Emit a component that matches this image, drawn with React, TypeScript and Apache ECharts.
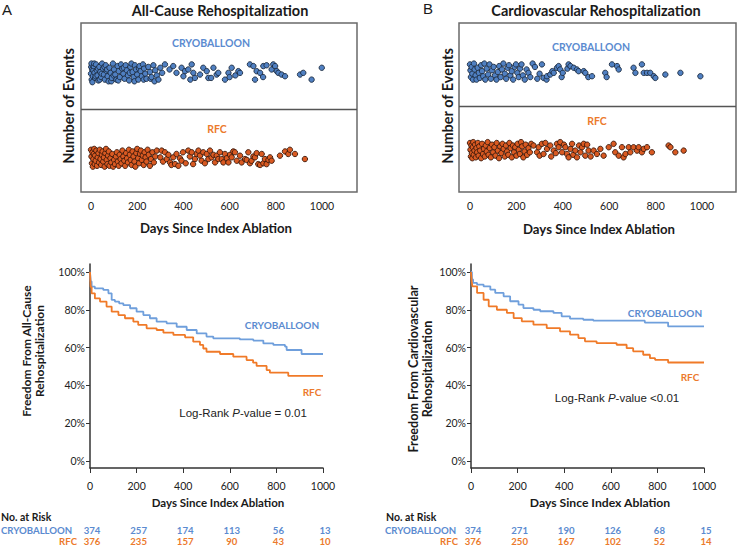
import React, { useEffect, useRef } from 'react';
import * as echarts from 'echarts';

// ---------- DATA ----------
const dayTicks = [0, 200, 400, 600, 800, 1000];
const pctTicks = [0, 20, 40, 60, 80, 100];

// Event scatter: [day, row position] (row: cryo band ~1.42, RFC band ~0.40/0.50)
const cryoAllCauseEvents = [
  [0,1.40],[1,1.48],[2,1.52],[3,1.33],[5,1.45],[6,1.30],[8,1.37],[10,1.44],[12,1.49],[14,1.52],[15,1.41],[18,1.35],[20,1.37],[22,1.51],[25,1.44],[28,1.38],[30,1.46],[32,1.32],[36,1.48],[38,1.33],[40,1.42],[44,1.36],[46,1.40],[48,1.52],[52,1.46],[56,1.39],[58,1.48],[60,1.33],[64,1.50],[68,1.43],[70,1.45],[72,1.37],[76,1.31],[80,1.47],[85,1.41],[88,1.31],[90,1.35],[95,1.52],[98,1.38],[100,1.45],[105,1.39],[110,1.33],[115,1.49],[118,1.32],[120,1.43],[125,1.36],[130,1.51],[135,1.46],[140,1.40],[142,1.47],[145,1.34],[150,1.50],[155,1.44],[160,1.38],[165,1.32],[168,1.41],[170,1.48],[175,1.52],[180,1.42],[185,1.36],[188,1.31],[190,1.50],[195,1.45],[200,1.39],[205,1.33],[208,1.46],[210,1.49],[215,1.43],[220,1.37],[225,1.51],[228,1.33],[230,1.46],[235,1.40],[240,1.34],[248,1.48],[255,1.42],[258,1.34],[262,1.36],[270,1.50],[275,1.31],[278,1.44],[285,1.38],[292,1.33],[300,1.47],[308,1.41],
  [320,1.51],[340,1.45],[356,1.49],[370,1.41],[392,1.47],[400,1.37],[407,1.43],[421,1.45],[430,1.33],[436,1.51],[443,1.41],[450,1.35],[472,1.39],[486,1.47],[501,1.43],[508,1.35],[520,1.35],[530,1.47],[544,1.39],[551,1.41],[580,1.33],[595,1.41],[600,1.36],[609,1.47],[625,1.38],[638,1.43],[645,1.41],[688,1.51],[703,1.49],[710,1.33],[717,1.43],[732,1.41],[745,1.36],[746,1.49],[760,1.50],[782,1.45],[789,1.51],[797,1.49],[804,1.43],[811,1.41],[825,1.39],[840,1.37],[905,1.39],[919,1.41],[955,1.33],[999,1.47]
];

const rfcAllCauseEvents = [
  [0,0.50],[2,0.42],[4,0.34],[6,0.47],[8,0.30],[10,0.39],[12,0.45],[14,0.51],[16,0.33],[18,0.43],[20,0.37],[23,0.49],[26,0.31],[29,0.41],[32,0.46],[35,0.35],[38,0.50],[41,0.39],[44,0.32],[47,0.44],[50,0.48],[53,0.36],[56,0.41],[59,0.30],[62,0.46],[65,0.51],[68,0.38],[71,0.33],[74,0.43],[77,0.48],[80,0.31],[84,0.40],[88,0.35],[92,0.45],[96,0.30],[100,0.38],[104,0.33],[108,0.42],[112,0.47],[116,0.36],[120,0.31],[124,0.44],[128,0.39],[132,0.34],[136,0.49],[140,0.42],[144,0.37],[148,0.31],[152,0.46],[156,0.40],[160,0.35],[164,0.50],[168,0.44],[172,0.38],[176,0.32],[180,0.48],[184,0.42],[188,0.36],[192,0.30],[196,0.46],[200,0.51],[204,0.40],[208,0.34],[212,0.45],[216,0.49],[220,0.38],[224,0.43],[228,0.32],[232,0.47],[236,0.41],[240,0.36],[245,0.50],[250,0.44],[255,0.31],[260,0.39],[266,0.47],[272,0.35],[278,0.42],[285,0.49],
  [300,0.41],[306,0.49],[312,0.36],[320,0.47],[328,0.39],[335,0.44],[342,0.35],[348,0.32],[356,0.41],[364,0.33],[370,0.45],[378,0.31],[385,0.40],[392,0.37],[398,0.47],[410,0.34],[421,0.49],[428,0.42],[436,0.47],[442,0.33],[450,0.39],[458,0.45],[465,0.49],[472,0.43],[479,0.37],[486,0.47],[493,0.34],[501,0.45],[508,0.39],[515,0.49],[522,0.41],[530,0.44],[537,0.35],[544,0.43],[551,0.39],[558,0.47],[566,0.39],[573,0.35],[580,0.45],[588,0.40],[595,0.35],[602,0.44],[609,0.41],[616,0.48],[623,0.47],[631,0.37],[645,0.43],[652,0.35],[667,0.39],[674,0.38],[681,0.47],[688,0.34],[695,0.37],[703,0.42],[710,0.41],[717,0.46],[724,0.33],[732,0.32],[739,0.45],[746,0.34],[753,0.39],[760,0.33],[768,0.38],[775,0.41],[782,0.37],[818,0.43],[840,0.48],[854,0.45],[861,0.50],[883,0.45],[926,0.39]
];

const cryoCvEvents = [
  [0,1.51],[2,1.44],[4,1.36],[7,1.48],[10,1.40],[13,1.33],[17,1.52],[20,1.45],[24,1.38],[28,1.33],[33,1.47],[38,1.41],[42,1.35],[48,1.50],[52,1.43],[57,1.37],[62,1.52],[66,1.33],[72,1.46],[78,1.39],[84,1.51],[90,1.34],[95,1.44],[102,1.48],[108,1.38],[114,1.33],[120,1.42],[126,1.49],[132,1.36],[138,1.45],[144,1.52],[150,1.40],[156,1.34],[162,1.47],[168,1.50],[174,1.38],[180,1.43],[186,1.33],[192,1.48],[198,1.51],[204,1.41],[210,1.36],[216,1.46],[222,1.51],[228,1.38],[236,1.33],[244,1.45],[252,1.41],[260,1.36],[270,1.52],[280,1.48],[290,1.34],
  [300,1.40],[310,1.51],[317,1.35],[330,1.33],[332,1.37],[346,1.39],[355,1.43],[361,1.41],[375,1.47],[382,1.49],[389,1.45],[395,1.36],[400,1.41],[420,1.46],[425,1.51],[433,1.49],[447,1.47],[461,1.45],[468,1.43],[490,1.43],[497,1.41],[510,1.36],[526,1.37],[583,1.41],[589,1.36],[612,1.51],[634,1.49],[641,1.45],[705,1.47],[713,1.41],[741,1.51],[749,1.41],[763,1.41],[777,1.41],[792,1.37],[799,1.35],[842,1.39],[907,1.41],[993,1.37]
];

const rfcCvEvents = [
  [0,0.58],[2,0.50],[4,0.42],[6,0.55],[8,0.46],[10,0.40],[12,0.53],[14,0.59],[16,0.44],[19,0.49],[22,0.56],[25,0.41],[28,0.52],[31,0.47],[34,0.58],[37,0.43],[40,0.54],[44,0.49],[48,0.40],[52,0.57],[56,0.45],[60,0.51],[64,0.42],[68,0.55],[72,0.48],[76,0.59],[80,0.44],[85,0.52],[90,0.41],[95,0.56],[100,0.47],[105,0.53],[110,0.43],[115,0.58],[120,0.49],[125,0.40],[130,0.54],[135,0.46],[140,0.57],[145,0.51],[150,0.42],[155,0.55],[160,0.48],[165,0.44],[170,0.58],[175,0.52],[180,0.41],[185,0.55],[190,0.47],[195,0.53],[200,0.43],[205,0.57],[210,0.50],[215,0.45],[220,0.59],[225,0.54],[230,0.41],[235,0.48],[240,0.56],[246,0.44],[252,0.52],[258,0.47],[264,0.57],
  [274,0.55],[289,0.47],[296,0.53],[300,0.43],[310,0.57],[317,0.45],[325,0.58],[332,0.51],[346,0.55],[350,0.42],[361,0.49],[370,0.46],[375,0.57],[382,0.53],[389,0.59],[397,0.47],[405,0.56],[411,0.53],[418,0.45],[425,0.41],[433,0.51],[440,0.57],[445,0.44],[454,0.49],[461,0.41],[470,0.55],[476,0.47],[483,0.53],[490,0.57],[497,0.43],[505,0.56],[511,0.49],[520,0.42],[533,0.49],[547,0.45],[562,0.51],[576,0.43],[598,0.53],[619,0.57],[626,0.47],[641,0.43],[655,0.53],[662,0.41],[670,0.45],[684,0.53],[691,0.47],[705,0.53],[720,0.49],[727,0.53],[741,0.47],[749,0.51],[763,0.53],[784,0.47],[856,0.55],[864,0.53],[885,0.47],[921,0.49]
];

// Kaplan-Meier: [day, % free from event]
const kmAllCauseCryo = [[0,100],[3,95],[7,92.2],[21,91.3],[57,90.5],[79,88.7],[93,85.2],[107,84.3],[125,83.4],[143,82.5],[172,80.8],[200,79],[229,77.2],[257,75.5],[286,73.7],[329,72.8],[372,71],[415,69.3],[458,67.5],[500,65.8],[529,64.9],[643,64.3],[701,63.7],[744,62.2],[787,61.4],[837,60.5],[844,58.7],[908,56.6],[1000,56.6]];
const kmAllCauseRfc = [[0,100],[3,92],[7,88.7],[21,86],[43,84.3],[71,81.7],[93,79],[122,77.2],[150,75.5],[186,73.7],[207,72],[243,70.2],[286,69.3],[315,67.9],[358,66.7],[408,65.4],[443,63.1],[472,61.4],[486,59.5],[500,57.8],[558,56.6],[615,55.2],[672,53.4],[700,52],[715,50.3],[758,48.1],[772,46.7],[851,45],[1000,45]];
const kmCvCryo = [[0,100],[4,96],[9,94.2],[26,93.3],[54,92.4],[83,90.6],[104,88.9],[140,87.1],[168,84.5],[204,82.7],[225,80.9],[268,80],[297,79.2],[354,78.3],[389,76.5],[425,75.3],[482,74.7],[525,74.2],[746,73.2],[846,71.2],[1000,71.2]];
const kmCvRfc = [[0,100],[3,95],[6,92.4],[26,88.9],[54,85.3],[76,81.8],[111,80],[154,78.3],[183,75.6],[218,73.9],[268,72.1],[325,70.3],[382,68.6],[425,66.8],[461,65],[489,63.3],[539,62.4],[625,61.5],[668,59.7],[696,58],[739,56.2],[768,54.4],[790,53.5],[846,52.1],[1000,52.1]];

// Numbers at risk at days 0,200,...,1000
const riskCryoAllCause = [374, 257, 174, 113, 56, 13];
const riskRfcAllCause = [376, 235, 157, 90, 43, 10];
const riskCryoCv = [374, 271, 190, 126, 68, 15];
const riskRfcCv = [376, 250, 167, 102, 52, 14];

// ---------- STYLE ----------
const BLUE_TXT = '#5b8bd0';
const ORANGE_TXT = '#ec7a2c';
const BLUE_LINE = '#6f9fdc';
const ORANGE_LINE = '#f07a28';
const DOT_BLUE = '#5080c2';
const DOT_ORANGE = '#d95a22';
const UI = 'Lato, "Open Sans", sans-serif';
const ARIAL = '"Liberation Sans", Arial, sans-serif';

function txt(x: number, y: number, text: string, opts: any = {}) {
  return {
    type: 'text',
    x,
    y,
    rotation: opts.rotation || 0,
    silent: true,
    style: {
      text,
      fill: opts.fill || '#1a1a1a',
      fontSize: opts.fontSize || 12,
      fontFamily: opts.fontFamily || UI,
      fontWeight: opts.fontWeight || 'bold',
      align: opts.align || 'center',
      verticalAlign: 'middle',
      lineHeight: opts.lineHeight,
      rich: opts.rich,
    },
  };
}

export default function App() {
  const ref = useRef<HTMLDivElement>(null);

  useEffect(() => {
    if (!ref.current) return;
    const chart = echarts.init(ref.current, undefined, { renderer: 'svg' });

    const topGrids = [
      { left: 81, top: 23, width: 276, height: 169 },
      { left: 459, top: 23, width: 277, height: 169 },
    ];
    const kmGrids = [
      { left: 90, top: 264, width: 233, height: 204 },
      { left: 471, top: 264, width: 233, height: 204 },
    ];
    const plain = (v: number) => String(v);

    const scatterX = (gi: number, min: number, max: number) => ({
      gridIndex: gi, type: 'value', min, max,
      axisLine: { show: false }, axisTick: { show: false }, splitLine: { show: false },
      axisLabel: { customValues: dayTicks, formatter: plain, margin: 8, fontSize: 10.5, fontFamily: UI, color: '#222' },
    });
    const kmX = (gi: number) => ({
      gridIndex: gi, type: 'value', min: 0, max: 1000, interval: 200,
      axisLine: { show: true, onZero: false, lineStyle: { color: '#333', width: 1.5 } },
      axisTick: { show: true, length: 5, lineStyle: { color: '#333', width: 1 } },
      splitLine: { show: false },
      axisLabel: { formatter: plain, margin: 12, fontSize: 10.5, fontFamily: UI, color: '#222' },
    });
    const kmY = (gi: number) => ({
      gridIndex: gi, type: 'value', min: -3.7, max: 104.2,
      axisLine: { show: true, onZero: false, lineStyle: { color: '#333', width: 1.5 } },
      axisTick: { show: true, customValues: pctTicks, length: 4, lineStyle: { color: '#333' } },
      splitLine: { show: false },
      axisLabel: { customValues: pctTicks, formatter: '{value}%', margin: 5, fontSize: 10.5, fontFamily: UI, color: '#222' },
    });

    const dot = (data: number[][], xi: number, fill: string, border: string, divider?: number) => ({
      type: 'scatter', xAxisIndex: xi, yAxisIndex: xi, data, symbolSize: 5.4,
      itemStyle: { color: fill, borderColor: border, borderWidth: 0.9, opacity: 1 },
      markLine: divider === undefined ? undefined : {
        silent: true, symbol: 'none', label: { show: false },
        lineStyle: { color: '#555', width: 1.3, type: 'solid' },
        data: [{ yAxis: divider }],
      },
    });
    const km = (data: number[][], xi: number, color: string) => ({
      type: 'line', xAxisIndex: xi, yAxisIndex: xi, data, step: 'end',
      symbol: 'none', showSymbol: false,
      lineStyle: { color, width: 1.8 },
    });

    const riskX = (left: number) => dayTicks.map((d) => left + (d / 1000) * 233 + 2);
    const ROW1 = 530.5;
    const ROW2 = 541.5;
    const RISK_FS = 9.6;

    const graphics: any[] = [
      // panel letters and titles
      txt(2, 9, 'A', { fontWeight: 'normal', fontSize: 15, fontFamily: ARIAL, align: 'left' }),
      txt(423, 8, 'B', { fontWeight: 'normal', fontSize: 15, fontFamily: ARIAL, align: 'left' }),
      txt(220, 10, 'All-Cause Rehospitalization', { fontSize: 14.5 }),
      txt(596, 10, 'Cardiovascular Rehospitalization', { fontSize: 14.5 }),
      // top y titles
      txt(68, 106, 'Number of Events', { fontSize: 14.5, rotation: Math.PI / 2 }),
      txt(447, 106, 'Number of Events', { fontSize: 14.5, rotation: Math.PI / 2 }),
      // top x titles
      txt(216, 228, 'Days Since Index Ablation', { fontSize: 13.2 }),
      txt(599, 229, 'Days Since Index Ablation', { fontSize: 13.2 }),
      // group labels in top panels
      txt(211, 43, 'CRYOBALLOON', { fontSize: 10.5, fill: BLUE_TXT }),
      txt(217, 129, 'RFC', { fontSize: 10.5, fill: ORANGE_TXT }),
      txt(591, 47, 'CRYOBALLOON', { fontSize: 10.5, fill: BLUE_TXT }),
      txt(597, 121, 'RFC', { fontSize: 10.5, fill: ORANGE_TXT }),
      // KM y titles
      txt(32.5, 351, 'Freedom From All-Cause\nRehospitalization', { fontSize: 12, rotation: Math.PI / 2, lineHeight: 13 }),
      txt(420, 369, 'Freedom From Cardiovascular\nRehospitalization', { fontSize: 12.6, rotation: Math.PI / 2, lineHeight: 14 }),
      // KM x titles
      txt(218, 502, 'Days Since Index Ablation', { fontSize: 11.5 }),
      txt(600, 502, 'Days Since Index Ablation', { fontSize: 12.2 }),
      // KM curve labels
      txt(282, 325, 'CRYOBALLOON', { fontSize: 10, fill: BLUE_TXT }),
      txt(312, 392, 'RFC', { fontSize: 10, fill: ORANGE_TXT }),
      txt(665, 313, 'CRYOBALLOON', { fontSize: 10, fill: BLUE_TXT }),
      txt(690, 377, 'RFC', { fontSize: 10, fill: ORANGE_TXT }),
      txt(243, 413, 'Log-Rank {i|P}-value = 0.01', {
        fontSize: 11.5, fontFamily: ARIAL, fontWeight: 'normal', fill: '#222',
        rich: { i: { fontStyle: 'italic', fontSize: 11.5, fontFamily: ARIAL, fill: '#222', color: '#222' } },
      }),
      txt(617, 398, 'Log-Rank {i|P}-value <0.01', {
        fontSize: 11.5, fontFamily: ARIAL, fontWeight: 'normal', fill: '#222',
        rich: { i: { fontStyle: 'italic', fontSize: 11.5, fontFamily: ARIAL, fill: '#222', color: '#222' } },
      }),
      // risk tables
      txt(1, 517, 'No. at Risk', { fontSize: 10.5, align: 'left' }),
      txt(1, ROW1, 'CRYOBALLOON', { fontSize: RISK_FS, align: 'left', fill: BLUE_TXT }),
      txt(77, ROW2, 'RFC', { fontSize: RISK_FS, align: 'right', fill: ORANGE_TXT }),
      txt(386, 517, 'No. at Risk', { fontSize: 10.5, align: 'left' }),
      txt(385, ROW1, 'CRYOBALLOON', { fontSize: RISK_FS, align: 'left', fill: BLUE_TXT }),
      txt(458, ROW2, 'RFC', { fontSize: RISK_FS, align: 'right', fill: ORANGE_TXT }),
    ];
    const lx = riskX(90);
    const rx = riskX(471);
    riskCryoAllCause.forEach((v, i) => graphics.push(txt(lx[i], ROW1, String(v), { fontSize: RISK_FS, fill: BLUE_TXT })));
    riskRfcAllCause.forEach((v, i) => graphics.push(txt(lx[i], ROW2, String(v), { fontSize: RISK_FS, fill: ORANGE_TXT })));
    riskCryoCv.forEach((v, i) => graphics.push(txt(rx[i], ROW1, String(v), { fontSize: RISK_FS, fill: BLUE_TXT })));
    riskRfcCv.forEach((v, i) => graphics.push(txt(rx[i], ROW2, String(v), { fontSize: RISK_FS, fill: ORANGE_TXT })));

    chart.setOption({
      animation: false,
      backgroundColor: '#ffffff',
      grid: [
        { ...topGrids[0], show: true, borderColor: '#6a6a6a', borderWidth: 1.5, containLabel: false },
        { ...topGrids[1], show: true, borderColor: '#6a6a6a', borderWidth: 1.5, containLabel: false },
        { ...kmGrids[0], containLabel: false },
        { ...kmGrids[1], containLabel: false },
      ],
      xAxis: [scatterX(0, -43.3, 1151.5), scatterX(1, -47.4, 1146.6), kmX(2), kmX(3)],
      yAxis: [
        { gridIndex: 0, type: 'value', min: 0, max: 2, show: false },
        { gridIndex: 1, type: 'value', min: 0, max: 2, show: false },
        kmY(2),
        kmY(3),
      ],
      series: [
        dot(cryoAllCauseEvents, 0, DOT_BLUE, '#1b2a40', 0.982),
        dot(rfcAllCauseEvents, 0, DOT_ORANGE, '#3a170a'),
        dot(cryoCvEvents, 1, DOT_BLUE, '#1b2a40', 1.018),
        dot(rfcCvEvents, 1, DOT_ORANGE, '#3a170a'),
        km(kmAllCauseCryo, 2, BLUE_LINE),
        km(kmAllCauseRfc, 2, ORANGE_LINE),
        km(kmCvCryo, 3, BLUE_LINE),
        km(kmCvRfc, 3, ORANGE_LINE),
      ],
      graphic: graphics,
    });

    return () => chart.dispose();
  }, []);

  return (
    <div
      ref={ref}
      style={{ position: 'fixed', left: 0, top: 0, width: 740, height: 547, background: '#fff' }}
    />
  );
}
